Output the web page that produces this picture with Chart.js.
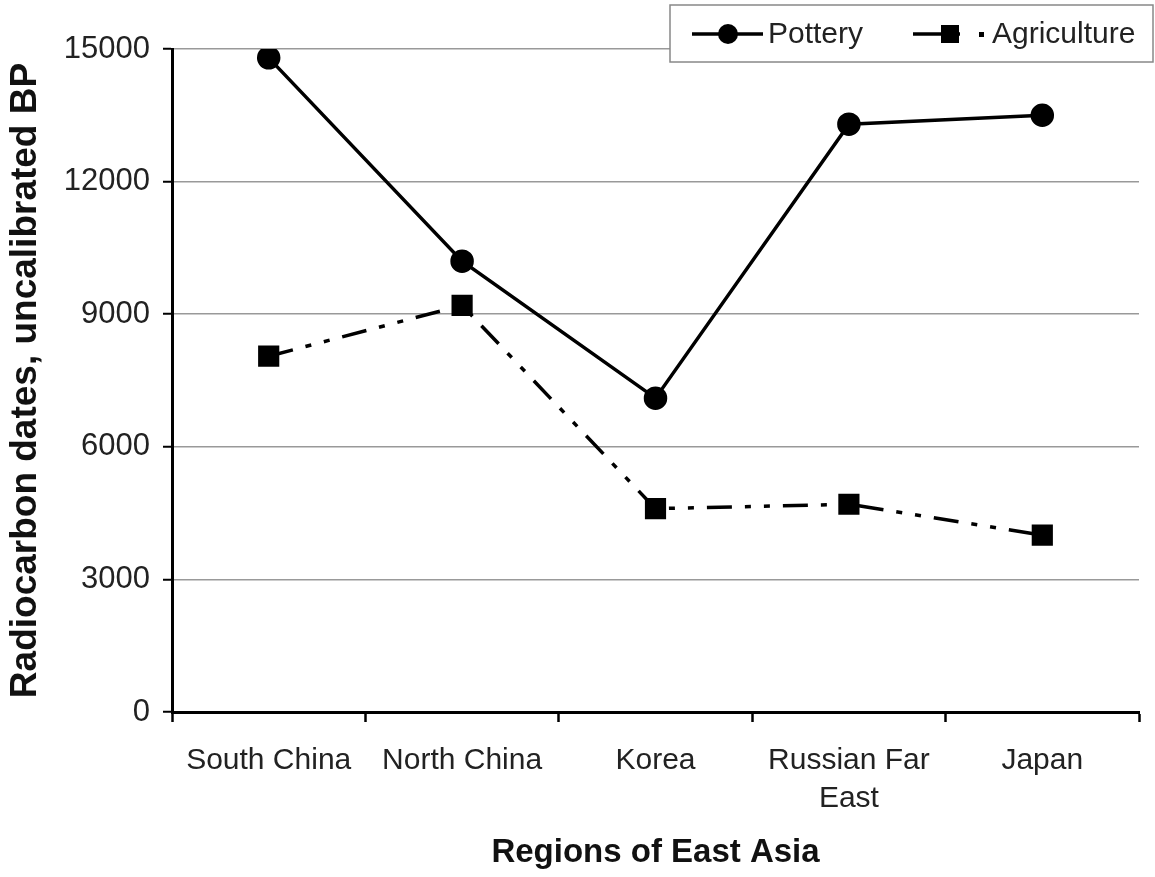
<!DOCTYPE html>
<html>
<head>
<meta charset="utf-8">
<script src="https://cdn.jsdelivr.net/npm/chart.js@4.4.1/dist/chart.umd.min.js"></script>
<style>
  html, body { margin: 0; padding: 0; background: #fff; }
</style>
</head>
<body>
<canvas id="myChart" width="1155" height="877"></canvas>
<script>
let regions = ['South China', 'North China', 'Korea', ['Russian Far', 'East'], 'Japan'];
let pottery = [14800, 10200, 7100, 13300, 13500];
let agriculture = [8050, 9200, 4600, 4700, 4000];
let seriesNames = ['Pottery', 'Agriculture'];

let font = 'Liberation Sans, Arial, sans-serif';
let dashDotDot = [25, 13, 6, 13, 6, 13];

// legend box drawn by hand, like the original (boxed, top right, over the plot)
let boxLegend = {
    id: 'boxLegend',
    afterDraw(chart) {
        let ctx = chart.ctx;
        ctx.save();
        ctx.fillStyle = '#fff';
        ctx.fillRect(670, 5, 483, 57);
        ctx.strokeStyle = '#888';
        ctx.lineWidth = 1.5;
        ctx.strokeRect(670, 5, 483, 57);

        let y = 34;
        ctx.strokeStyle = '#000';
        ctx.fillStyle = '#000';
        ctx.lineWidth = 3.5;
        // pottery sample
        ctx.beginPath();
        ctx.moveTo(692, y);
        ctx.lineTo(763, y);
        ctx.stroke();
        ctx.beginPath();
        ctx.arc(728, y, 10, 0, Math.PI * 2);
        ctx.fill();
        // agriculture sample
        ctx.beginPath();
        ctx.moveTo(913, y);
        ctx.lineTo(960, y);
        ctx.stroke();
        ctx.fillRect(941, y - 9, 18, 18);
        ctx.fillRect(979, y - 2, 5, 5);

        ctx.font = '30px ' + font;
        ctx.fillStyle = '#222';
        ctx.textBaseline = 'middle';
        ctx.fillText(seriesNames[0], 768, y + 1);
        ctx.fillText(seriesNames[1], 992, y + 1);
        ctx.restore();
    }
};

let linechart = document.getElementById('myChart').getContext('2d');

let chart = new Chart(linechart, {
    type: 'line',
    data: {
        labels: regions,
        datasets: [{
            label: seriesNames[0],
            data: pottery,
            borderColor: '#000',
            backgroundColor: '#000',
            borderWidth: 3.5,
            pointStyle: 'circle',
            pointRadius: 10,
            tension: 0
        }, {
            label: seriesNames[1],
            data: agriculture,
            borderColor: '#000',
            backgroundColor: '#000',
            borderWidth: 3.5,
            borderDash: dashDotDot,
            pointStyle: 'rect',
            pointRadius: 12.5,
            tension: 0
        }]
    },
    options: {
        responsive: false,
        animation: false,
        devicePixelRatio: 1,
        layout: {
            padding: { top: 49, right: 16, left: 0, bottom: 0 }
        },
        plugins: {
            legend: { display: false },
            tooltip: { enabled: false }
        },
        scales: {
            x: {
                offset: true,
                grid: {
                    offset: true,
                    drawOnChartArea: false,
                    tickLength: 10,
                    tickColor: '#000',
                    tickWidth: 2.5
                },
                border: { color: '#000', width: 3 },
                ticks: {
                    color: '#222',
                    padding: 20,
                    maxRotation: 0,
                    autoSkip: false,
                    font: { family: font, size: 30, lineHeight: 1.25 }
                },
                title: {
                    display: true,
                    text: 'Regions of East Asia',
                    color: '#111',
                    padding: { top: 10 },
                    font: { family: font, size: 33, weight: 'bold' }
                },
                afterFit(scale) { scale.height = 165; }
            },
            y: {
                min: 0,
                max: 15000,
                ticks: {
                    stepSize: 3000,
                    color: '#222',
                    padding: 13,
                    font: { family: font, size: 31 },
                    callback: v => String(v)
                },
                grid: {
                    color: '#999',
                    lineWidth: 1.5,
                    tickLength: 9,
                    tickColor: '#000',
                    tickWidth: 2
                },
                border: { color: '#000', width: 3 },
                title: {
                    display: true,
                    text: 'Radiocarbon dates, uncalibrated BP',
                    color: '#111',
                    padding: { bottom: 2 },
                    font: { family: font, size: 37, weight: 'bold' }
                },
                afterFit(scale) { scale.width = 172; }
            }
        }
    },
    plugins: [boxLegend]
});
</script>
</body>
</html>
